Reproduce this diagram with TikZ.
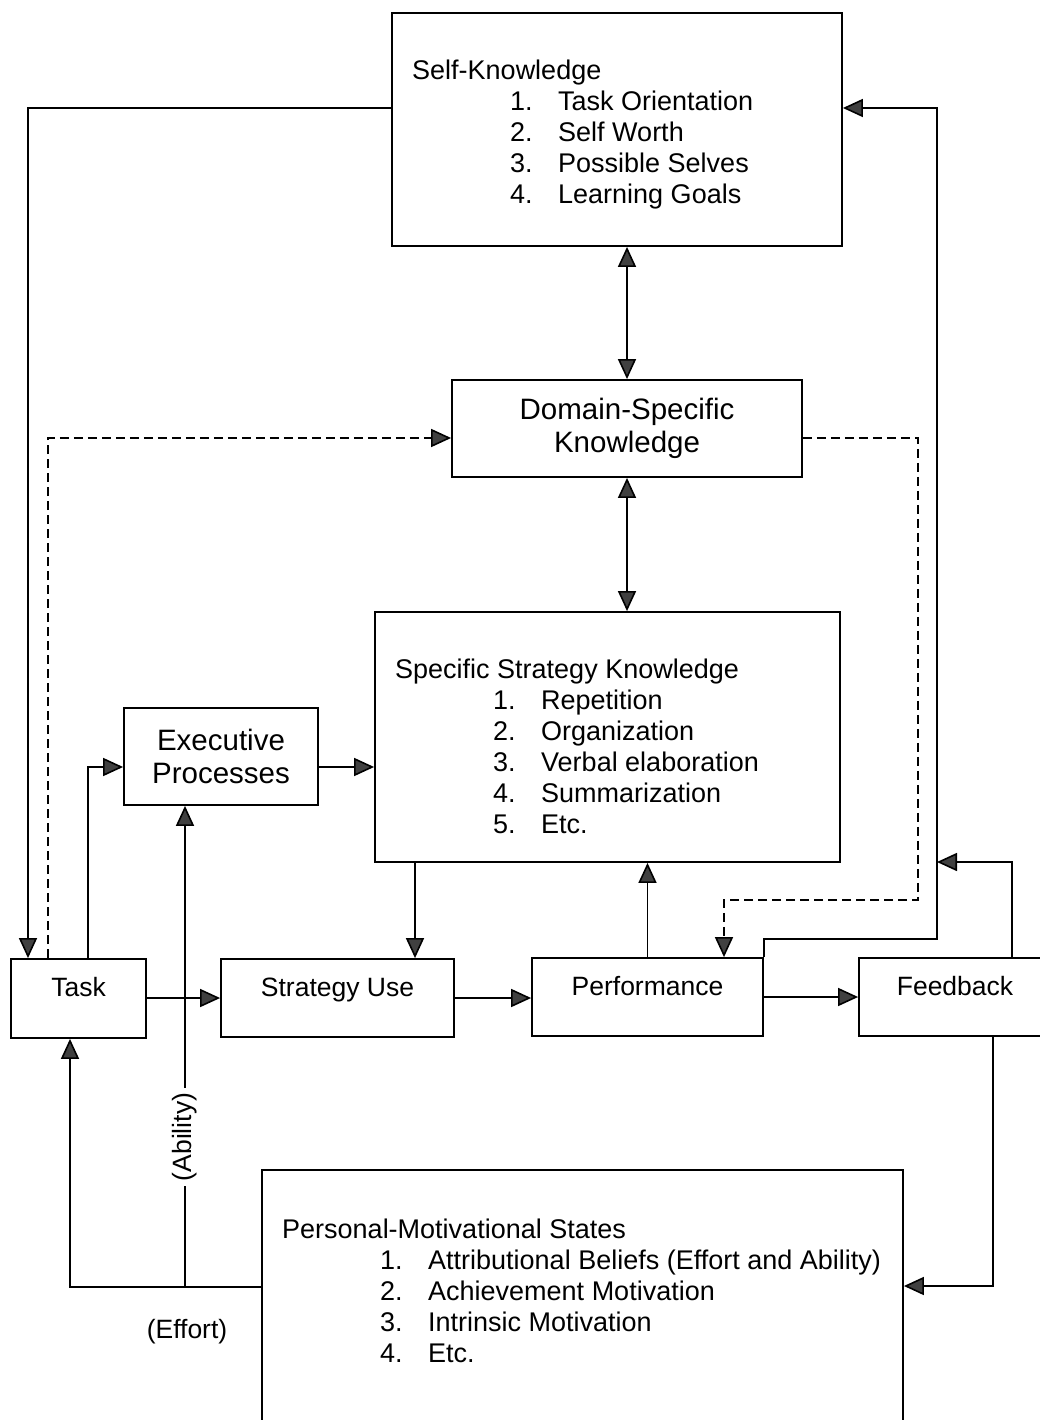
\documentclass[tikz,border=0pt]{standalone}
\usepackage{fontspec}
\setmainfont{Liberation Sans}
\usetikzlibrary{arrows.meta}

\newcommand\listfont{\fontsize{27}{31}\selectfont}
\newcommand\boxfont{\fontsize{29.5}{33}\selectfont}
\newcommand\labfont{\fontsize{26.5}{30}\selectfont}
\newcommand\itm[2]{\hspace*{98pt}\makebox[48pt][l]{#1.}#2}

\tikzset{
  box/.style={draw,line width=1.8pt,inner sep=0pt},
  onebox/.style={box,font=\labfont,text height=21pt,text depth=25pt},
  twobox/.style={box,font=\boxfont,align=center},
  listtext/.style={anchor=north west,align=left,inner sep=0pt,font=\listfont},
  conn/.style={line width=1.6pt},
  tip/.tip={Triangle[length=20pt,width=18pt,fill=black!75]},
  arr/.style={conn,-tip},
  dualarr/.style={conn,tip-tip},
  dasharr/.style={conn,-tip,dash pattern=on 9pt off 5pt}
}

\begin{document}
\begin{tikzpicture}[x=1pt,y=-1pt]
	\useasboundingbox (0,0) rectangle (1040,1420);
	\clip (0,0) rectangle (1040,1420);

	% knowledge boxes
	\node[box,minimum width=450pt,minimum height=233pt] (sk) at (617,129.5) {};
	\node[listtext] (sktext) at (412,60) {Self-Knowledge\\
		\itm{1}{Task Orientation}\\ \itm{2}{Self Worth}\\
		\itm{3}{Possible Selves}\\ \itm{4}{Learning Goals}};
	\node[twobox,minimum width=350pt,minimum height=97pt] (dsk) at (627,428.5) {Domain-Specific\\Knowledge};
	\node[box,minimum width=465pt,minimum height=250pt] (ssk) at (607.5,737) {};
	\node[listtext] (ssktext) at (395,659) {Specific Strategy Knowledge\\
		\itm{1}{Repetition}\\ \itm{2}{Organization}\\ \itm{3}{Verbal elaboration}\\
		\itm{4}{Summarization}\\ \itm{5}{Etc.}};
	\node[twobox,minimum width=194pt,minimum height=97pt] (exec) at (221,756.5) {Executive\\Processes};

	% process row
	\node[onebox,minimum width=135pt,minimum height=79pt] (task) at (78.5,998.5) {Task};
	\node[onebox,minimum width=233pt,minimum height=78pt] (su) at (337.5,998) {Strategy Use};
	\node[onebox,minimum width=231pt,minimum height=78pt] (perf) at (647.5,997) {Performance};
	\node[onebox,minimum width=192pt,minimum height=78pt] (fb) at (955,997) {Feedback};

	% motivation
	\node[box,minimum width=641pt,minimum height=270pt] (pms) at (582.5,1305) {};
	\node[listtext] (pmstext) at (282,1219) {Personal-Motivational States\\
		\itm{1}{Attributional Beliefs (Effort and Ability)}\\ \itm{2}{Achievement Motivation}\\
		\itm{3}{Intrinsic Motivation}\\ \itm{4}{Etc.}};
	\node[font=\labfont,rotate=90,inner sep=5pt] (abil) at (185,1137) {(Ability)};
	\node[font=\labfont,inner sep=0pt] (effort) at (187,1332) {(Effort)};
	\coordinate (split) at (185,1287);

	% connectors
	\draw[arr] (sk.west |- 0,108) -| (task.north -| 28,0);
	\draw[arr] (perf.north east) |- (937,939) |- (sk.east |- 0,108);
	\draw[arr] (fb.north -| 1012,0) |- (937,862);
	\draw[dualarr] (dsk.north) -- (dsk.north |- sk.south);
	\draw[dualarr] (dsk.south) -- (dsk.south |- ssk.north);
	\draw[dasharr] (task.north -| 48,0) |- (dsk.west |- 0,438);
	\draw[dasharr] (dsk.east |- 0,438) -| (918,900) -| (perf.north -| 724,0);
	\draw[arr] (task.north -| 88,0) |- (exec.west |- 0,767);
	\draw[arr] (exec.east |- 0,767) -- (ssk.west |- 0,767);
	\draw[arr] (ssk.south -| 415,0) -- (su.north -| 415,0);
	\draw[arr] (perf.north) -- (perf.north |- ssk.south);
	\draw[arr] (task.east |- 0,998) -- (su.west |- 0,998);
	\draw[arr] (su.east) -- (perf.west |- su.east);
	\draw[arr] (perf.east) -- (fb.west);
	\draw[arr] (fb.south -| 993,0) |- (pms.east |- 0,1286);
	\draw[arr] (pms.west |- split) -| (task.south -| 70,0);
	\draw[conn] (split) -- (abil.west);
	\draw[arr] (abil.east) -- (exec.south -| split);
\end{tikzpicture}
\end{document}
